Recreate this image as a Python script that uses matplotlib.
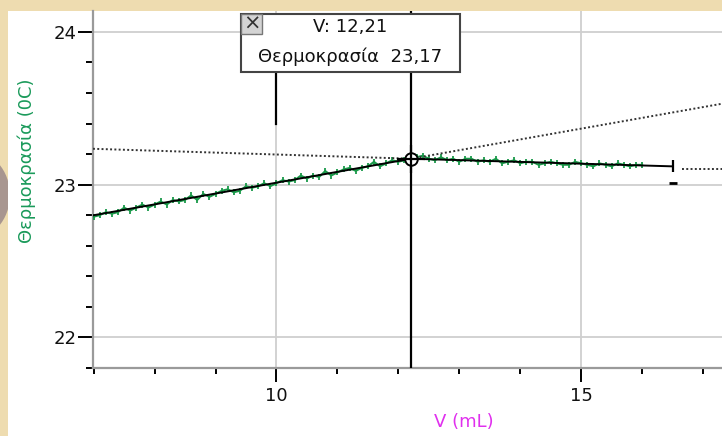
import numpy as np
import matplotlib
matplotlib.use("Agg")
import matplotlib.pyplot as plt
from matplotlib.patches import Rectangle, Ellipse
from matplotlib.ticker import MultipleLocator, FixedLocator

plt.rcParams['font.family'] = ['DejaVu Sans']

# measured data (green), V in mL, temperature in C
vol = [7.0, 7.1, 7.2, 7.3, 7.4, 7.5, 7.6, 7.7, 7.8, 7.9,
       8.0, 8.1, 8.2, 8.3, 8.4, 8.5, 8.6, 8.7, 8.8, 8.9,
       9.0, 9.1, 9.2, 9.3, 9.4, 9.5, 9.6, 9.7, 9.8, 9.9,
       10.0, 10.1, 10.2, 10.3, 10.4, 10.5, 10.6, 10.7, 10.8, 10.9,
       11.0, 11.1, 11.2, 11.3, 11.4, 11.5, 11.6, 11.7, 11.8, 11.9,
       12.0, 12.1, 12.2, 12.3, 12.4, 12.5, 12.6, 12.7, 12.8, 12.9,
       13.0, 13.1, 13.2, 13.3, 13.4, 13.5, 13.6, 13.7, 13.8, 13.9,
       14.0, 14.1, 14.2, 14.3, 14.4, 14.5, 14.6, 14.7, 14.8, 14.9,
       15.0, 15.1, 15.2, 15.3, 15.4, 15.5, 15.6, 15.7, 15.8, 15.9, 16.0]
temp = [22.79, 22.80, 22.82, 22.81, 22.82, 22.85, 22.83, 22.85, 22.87, 22.85,
        22.87, 22.89, 22.87, 22.90, 22.89, 22.90, 22.93, 22.90, 22.94, 22.92,
        22.94, 22.96, 22.97, 22.95, 22.96, 22.99, 22.98, 22.99, 23.01, 22.99,
        23.01, 23.03, 23.02, 23.03, 23.06, 23.04, 23.06, 23.05, 23.09, 23.06,
        23.08, 23.10, 23.11, 23.09, 23.11, 23.12, 23.15, 23.12, 23.14, 23.16,
        23.15, 23.16, 23.17, 23.18, 23.19, 23.17, 23.16, 23.18, 23.16, 23.17,
        23.15, 23.17, 23.17, 23.15, 23.16, 23.15, 23.17, 23.14, 23.15, 23.16,
        23.14, 23.15, 23.15, 23.13, 23.14, 23.15, 23.14, 23.13, 23.13, 23.15,
        23.14, 23.13, 23.12, 23.14, 23.13, 23.12, 23.14, 23.13, 23.12, 23.13, 23.13]

# linear fits (black) and their extrapolations (dotted)
fit_v = [7.0, 12.21, 16.5]
fit_t = [22.80, 23.17, 23.12]
extra_left_v = [6.99, 12.21]
extra_left_t = [23.235, 23.17]
extra_right_v = [12.21, 17.31]
extra_right_t = [23.17, 23.53]
tail_v = [16.66, 17.31]
tail_t = [23.105, 23.105]

cursor_v = 12.21
cursor_t = 23.17
box_lines = ["V: 12,21", "Θερμοκρασία  23,17"]

W, H = 722, 436
fig = plt.figure(figsize=(W / 100, H / 100), dpi=100, facecolor='#eedcb0')

# parchment background details
fig.patches.append(Ellipse((-30 / W, 1 - 195 / H), 80 / W, 90 / H, transform=fig.transFigure,
                           facecolor='#a89690', edgecolor='none', zorder=0))
fig.patches.append(Rectangle((8 / W, 0), 1, 425 / H, transform=fig.transFigure,
                             facecolor='white', edgecolor='none', zorder=1))

ax = fig.add_axes([93 / W, 68 / H, (W - 93) / W, (368 - 11) / H])
ax.set_facecolor('none')
ax.set_zorder(2)

ax.set_xlim(6.99, 17.31)
ax.set_ylim(21.8, 24.137)

ax.xaxis.set_major_locator(FixedLocator([10, 15]))
ax.xaxis.set_minor_locator(MultipleLocator(1))
ax.yaxis.set_major_locator(FixedLocator([22, 23, 24]))
ax.yaxis.set_minor_locator(MultipleLocator(0.2))
ax.grid(True, which='major', color='#cfcfcf', lw=1.3, zorder=0)

for s in ['top', 'right']:
    ax.spines[s].set_visible(False)
for s in ['left', 'bottom']:
    ax.spines[s].set_color('#9a9a9a')
    ax.spines[s].set_linewidth(1.6)

ax.tick_params(axis='y', which='major', length=11, width=1.4, color='black',
               labelsize=13, pad=1, labelcolor='#111111')
ax.tick_params(axis='y', which='minor', length=5, width=1.4, color='black')
ax.tick_params(axis='x', which='major', length=10, width=1.4, color='black',
               labelsize=13, pad=4, labelcolor='#111111')
ax.tick_params(axis='x', which='minor', length=4, width=1.4, color='black')

# data and fits
ax.plot(vol, temp, color='#1a9a4a', lw=1.4, marker='|', ms=5, mew=1.3, zorder=3)
ax.plot(fit_v, fit_t, color='black', lw=1.4, zorder=4)
ax.plot(extra_left_v, extra_left_t, color='#333333', lw=1.4, ls=(0, (1, 1.2)), zorder=3)
ax.plot(extra_right_v, extra_right_t, color='#333333', lw=1.4, ls=(0, (1, 1.2)), zorder=3)
ax.plot(tail_v, tail_t, color='#333333', lw=1.4, ls=(0, (1, 1.2)), zorder=3)

# end marker of fit
ax.plot([fit_v[-1]], [fit_t[-1]], marker='|', ms=8, mew=1.6, color='black', zorder=5)
ax.plot([fit_v[-1]], [23.01], marker='_', ms=6, mew=2, color='black', zorder=5)

# cursor lines
ax.axvline(cursor_v, color='black', lw=1.6, zorder=4)
ax.plot([10, 10], [23.40, 23.9], color='black', lw=1.6, zorder=4)
ax.plot([cursor_v], [cursor_t], marker='o', ms=9, mfc='white', mec='black', mew=1.4, zorder=6)
ax.plot([cursor_v], [cursor_t], marker='+', ms=20, mew=1.6, color='black', zorder=7)

# readout box
bx0, by0, bx1, by1 = 241, 14, 460, 72
fig.patches.append(Rectangle((bx0 / W, 1 - by1 / H), (bx1 - bx0) / W, (by1 - by0) / H,
                             transform=fig.transFigure, facecolor='white',
                             edgecolor='#444444', lw=1.5, zorder=10))
fig.patches.append(Rectangle((bx0 / W, 1 - 34 / H), 21 / W, 20 / H,
                             transform=fig.transFigure, facecolor='#d4d4d4',
                             edgecolor='#777777', lw=1, zorder=11))
fig.text((bx0 + 10.5) / W, 1 - 24 / H, "×", ha='center', va='center',
         fontsize=15, color='#333333', zorder=12)
fig.text(350 / W, 1 - 27 / H, box_lines[0], ha='center', va='center',
         fontsize=13, color='#111111', zorder=12)
fig.text(350 / W, 1 - 57 / H, box_lines[1], ha='center', va='center',
         fontsize=13, color='#111111', zorder=12)

# axis labels
fig.text(464 / W, 1 - 422 / H, "V (mL)", ha='center', va='center',
         fontsize=13, color='#e030ee')
fig.text(27 / W, 1 - 161 / H, "Θερμοκρασία (0C)", ha='center', va='center',
         rotation=90, fontsize=13, color='#1a9a5a')

fig.savefig("out.png", dpi=100, facecolor=fig.get_facecolor())
